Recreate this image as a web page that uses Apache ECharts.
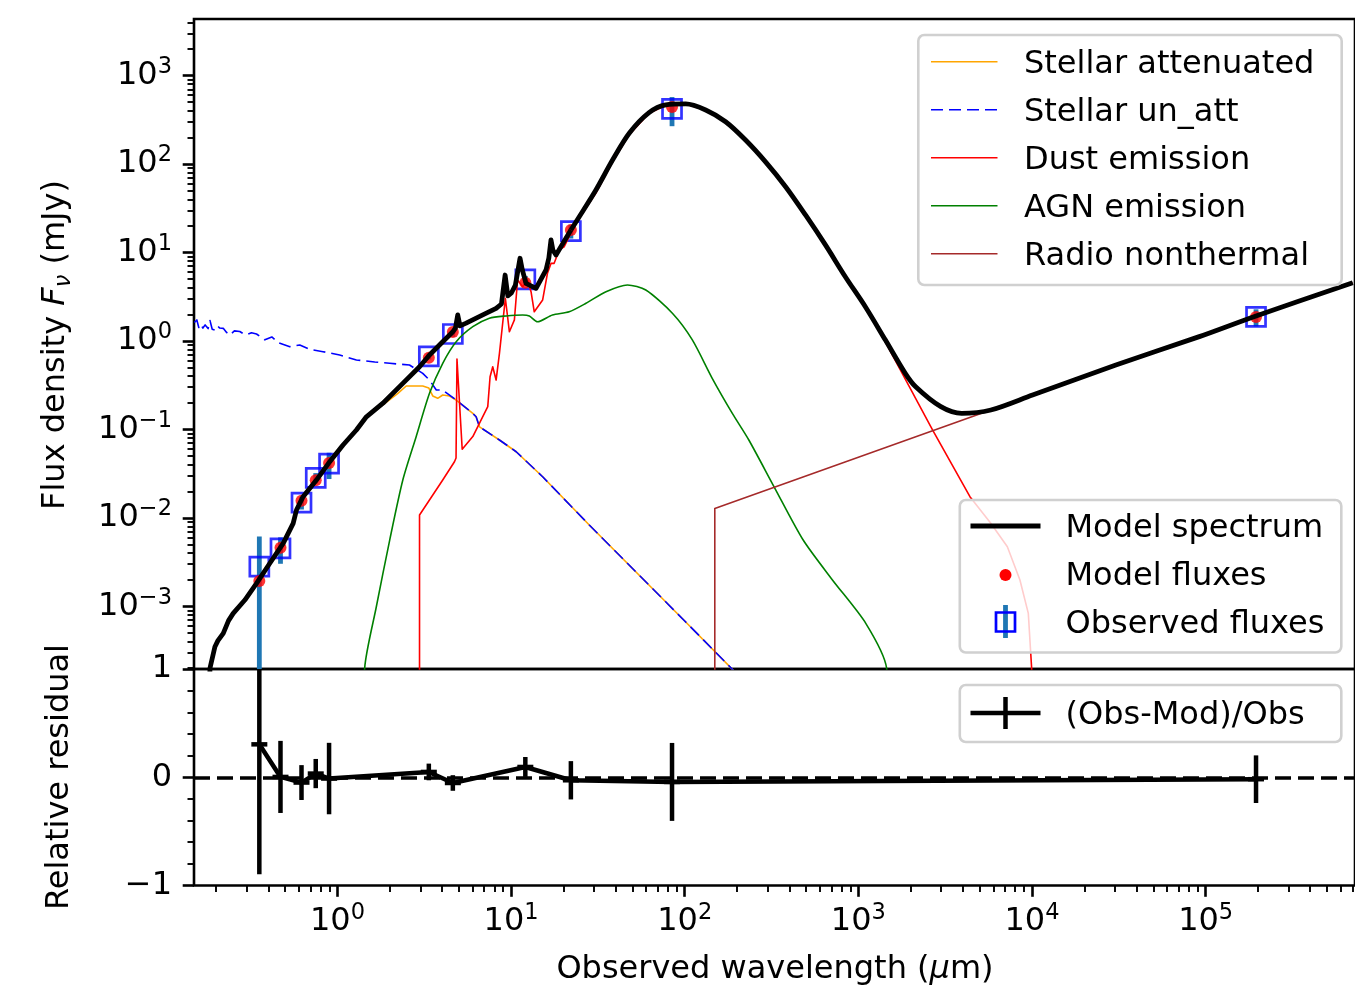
<!DOCTYPE html>
<html>
<head>
<meta charset="utf-8">
<title>SED fit</title>
<script src="https://cdn.jsdelivr.net/npm/echarts@6/dist/echarts.min.js"></script>
<style>
  html, body { margin: 0; padding: 0; background: #fff; }
  #sed { width: 1355px; height: 998px; }
</style>
</head>
<body>
<div id="sed"></div>
<script>
// all spectra: [wavelength (micron), flux density (mJy)]
var stellarAttenuated = [
  [0.180, 5e-5], [0.1846, 2.0e-4], [0.197, 3.5e-4], [0.220, 4.9e-4], [0.251, 8.3e-4],
  [0.293, 1.18e-3], [0.342, 1.8e-3], [0.408, 3.05e-3], [0.487, 5.1e-3], [0.556, 8.6e-3],
  [0.581, 0.0122], [0.634, 0.0172], [0.757, 0.0265], [0.903, 0.0428], [1.077, 0.066],
  [1.286, 0.097], [1.468, 0.136], [1.828, 0.19], [2.23, 0.256], [2.49, 0.31], [3.10, 0.31],
  [3.36, 0.294], [3.54, 0.239], [3.78, 0.225], [4.04, 0.245], [4.42, 0.239], [4.83, 0.215],
  [6.02, 0.152], [6.29, 0.139], [6.58, 0.107], [8.57, 0.076], [10.7, 0.056], [15.2, 0.0292],
  [28.2, 0.00831], [100, 6.84e-4], [200, 1.72e-4], [300, 7.6e-5]
];
var stellarUnatt = [
  [0.150, 1.62], [0.155, 1.73], [0.159, 1.42], [0.163, 1.55], [0.168, 1.40], [0.173, 1.52],
  [0.180, 1.38], [0.1846, 1.70], [0.190, 1.36], [0.197, 1.33], [0.204, 1.48], [0.210, 1.40],
  [0.220, 1.39], [0.230, 1.25], [0.240, 1.17], [0.255, 1.30], [0.274, 1.28], [0.287, 1.21],
  [0.300, 1.18], [0.320, 1.24], [0.342, 1.20], [0.382, 1.03], [0.419, 1.11], [0.46, 0.95],
  [0.532, 0.862], [0.607, 0.90], [0.70, 0.80], [0.826, 0.757], [1.03, 0.695], [1.286, 0.61],
  [1.64, 0.579], [2.0, 0.56], [2.60, 0.535], [3.10, 0.431], [3.39, 0.362], [3.71, 0.279],
  [4.04, 0.279], [4.83, 0.215], [6.02, 0.152], [6.29, 0.139], [6.58, 0.107], [8.57, 0.076],
  [10.7, 0.056], [15.2, 0.0292], [28.2, 0.00831], [100, 6.84e-4], [200, 1.72e-4], [300, 7.6e-5]
];
var dustEmission = [
  [2.97, 1e-5], [2.97, 0.0108], [4.04, 0.0268], [4.72, 0.0432], [4.82, 0.0476], [4.88, 0.626],
  [5.23, 0.0597], [6.02, 0.083], [7.34, 0.181], [7.57, 0.395], [7.84, 0.512], [8.20, 0.362],
  [8.57, 0.726], [9.27, 3.04], [9.78, 1.27], [10.45, 1.73], [10.9, 4.89], [11.66, 4.11],
  [12.45, 4.89], [13.03, 3.61], [13.6, 2.14], [15.2, 2.91], [16.2, 5.83], [17.0, 7.55],
  [17.7, 7.55], [18.95, 10.7], [20.2, 11.6], [21.6, 15.1], [23.6, 21.4], [30.8, 47],
  [38.4, 106], [47.9, 215], [62.3, 375], [77.8, 462], [101.4, 476], [132, 408], [172, 300],
  [224, 186], [292, 105], [381, 55], [496, 26.4], [646, 12.1], [841, 5.25], [1097, 2.38],
  [1429, 0.98], [2673, 0.0986], [4390, 0.0174], [5788, 0.00869], [7211, 0.00472],
  [8519, 0.00199], [9520, 8.34e-4], [9950, 2.0e-4], [10100, 1e-5]
];
var agnEmission = [
  [1.40, 1e-5], [1.435, 2.0e-4], [1.675, 9.9e-4], [2.0, 5.62e-3], [2.38, 0.0268], [2.84, 0.0828],
  [3.39, 0.256], [4.04, 0.56], [4.83, 0.982], [6.02, 1.45], [7.50, 1.81], [9.36, 1.92],
  [11.66, 1.97], [12.74, 1.92], [14.2, 1.65], [17.3, 1.97], [21.6, 2.14], [27.0, 2.67],
  [35.2, 3.61], [46.8, 4.30], [59.7, 3.77], [84.9, 2.06], [110.6, 1.03], [144, 0.379],
  [188, 0.152], [234, 0.076], [327, 0.0225], [481, 5.62e-3], [709, 1.99e-3], [1103, 6.43e-4],
  [1454, 2.0e-4], [1520, 1e-5]
];
var radioNonthermal = [
  [149, 1e-5], [149, 0.0128], [1000, 0.0484], [10000, 0.244], [100000, 1.21], [703000, 4.55]
];
var modelSpectrum = [
  [0.180, 5e-5], [0.1846, 2.01e-4], [0.197, 3.50e-4], [0.205, 4.1e-4], [0.220, 4.96e-4],
  [0.236, 6.9e-4], [0.251, 8.34e-4], [0.293, 1.18e-3], [0.342, 1.82e-3], [0.408, 3.07e-3],
  [0.487, 5.16e-3], [0.556, 8.69e-3], [0.581, 0.01228], [0.634, 0.01738], [0.757, 0.0268],
  [0.903, 0.0432], [1.077, 0.0667], [1.286, 0.0986], [1.468, 0.139], [1.828, 0.198],
  [2.38, 0.332], [2.97, 0.512], [3.39, 0.695], [4.04, 0.982], [4.62, 1.27], [4.78, 1.40],
  [4.93, 1.97], [5.08, 1.48], [5.51, 1.59], [6.87, 1.97], [8.20, 2.34], [8.80, 2.62],
  [9.24, 5.57], [9.58, 3.23], [10.04, 3.49], [10.59, 4.30], [11.26, 8.61], [11.61, 6.35],
  [12.19, 4.49], [13.92, 3.94], [15.89, 6.35], [16.5, 8.68], [16.98, 13.9], [17.4, 10.7],
  [18.14, 9.38], [22.1, 18.0], [24.7, 25.4], [30.8, 50.9], [38.4, 111], [47.9, 223],
  [62.3, 381], [77.8, 466], [101.4, 478], [132, 409], [172, 301], [224, 187], [292, 106],
  [381, 55.5], [496, 26.6], [646, 12.2], [841, 5.33], [1097, 2.44], [1429, 1.03], [1862, 0.431],
  [2138, 0.304], [2985, 0.181], [3936, 0.152], [5794, 0.166], [10070, 0.245], [30400, 0.535],
  [91900, 1.12], [195000, 1.92], [703000, 4.55]
];

// photometric bands
var bandWave = [0.355, 0.470, 0.621, 0.750, 0.895, 3.36, 4.62, 12.08, 22.1, 84.5, 195000];
var obsFlux = [0.00281, 0.00453, 0.01485, 0.0283, 0.0410, 0.671, 1.20, 4.98, 17.5, 420, 1.87];
var obsErr = [0.00337, 0.0015, 0.0024, 0.0038, 0.0135, 0.052, 0.086, 0.46, 3.1, 152, 0.41];
var modelFlux = [0.00193, 0.00460, 0.01564, 0.0266, 0.0418, 0.648, 1.26, 4.56, 17.99, 442, 1.87];
var residual = [0.304, 0.003, -0.049, 0.034, -0.012, 0.049, -0.053, 0.095, -0.028, -0.043, -0.018];
var residualErr = [1.20, 0.333, 0.161, 0.135, 0.33, 0.077, 0.072, 0.092, 0.177, 0.36, 0.22];

// tick exponents
var xTicks = [0, 1, 2, 3, 4, 5];
var yTicks = [-3, -2, -1, 0, 1, 2, 3];

var FONT = 'DejaVu Sans';
var X_MIN = -0.826, X_MAX = 5.86;
var Y_MIN = -3.708, Y_MAX = 3.640;
var SPLIT_WAVE = 22.1; // spiky mid-IR drawn straight, far-IR/radio drawn smoothed

function lg(arr) {
  return arr.map(function (p) { return [Math.log10(p[0]), Math.log10(p[1])]; });
}
function minorTicks(lo, hi) {
  var out = [];
  for (var n = Math.floor(lo); n <= Math.ceil(hi); n++) {
    for (var k = 2; k <= 9; k++) {
      var v = n + Math.log10(k);
      if (v >= lo && v <= hi) out.push(v);
    }
  }
  return out;
}
function powLabel(v) {
  var e = Math.round(v);
  return '{b|10}{s|' + (e < 0 ? '\u2212' + (-e) : e) + '}';
}
var powRich = {
  b: { fontSize: 32, lineHeight: 40, fontFamily: FONT, color: '#000' },
  s: { fontSize: 22.5, lineHeight: 20, verticalAlign: 'top', fontFamily: FONT, color: '#000' }
};
var majorTick = { length: 11.3, lineStyle: { color: '#000', width: 2.6 } };
var minorTick = { length: 6.5, lineStyle: { color: '#000', width: 1.9 } };

var errData = bandWave.map(function (w, i) {
  var lo = obsFlux[i] - obsErr[i];
  return [Math.log10(w), lo > 0 ? Math.log10(lo) : Y_MIN, Math.log10(obsFlux[i] + obsErr[i])];
});
var resData = bandWave.map(function (w, i) {
  return [Math.log10(w), residual[i], residualErr[i]];
});

function compLine(name, data, color, dash, smooth) {
  return {
    name: name, type: 'line', xAxisIndex: 0, yAxisIndex: 0,
    data: lg(data), symbol: 'none', silent: true, clip: true,
    smooth: smooth || false,
    lineStyle: { color: color, width: 1.6, type: dash || 'solid', join: 'round' }
  };
}

var chart = echarts.init(document.getElementById('sed'), null, { renderer: 'canvas' });

// legends drawn by hand to look like the matplotlib ones
var legend = [];
function box(x, y, w, h) {
  legend.push({ type: 'rect', z: 100, shape: { x: x, y: y, width: w, height: h, r: 6 },
    style: { fill: 'rgba(255,255,255,0.8)', stroke: '#d0d0d0', lineWidth: 2.6 } });
}
function label(x, y, t) {
  legend.push({ type: 'text', z: 101, x: x, y: y + 2.5,
    style: { text: t, fontSize: 32, fontFamily: FONT, fill: '#000', align: 'left', verticalAlign: 'middle' } });
}
function hline(x1, x2, y, color, w, dash) {
  legend.push({ type: 'line', z: 101, shape: { x1: x1, y1: y, x2: x2, y2: y },
    style: { stroke: color, lineWidth: w, lineDash: dash || null } });
}
box(918.3, 35, 423.4, 250);
var compNames = ['Stellar attenuated', 'Stellar un_att', 'Dust emission', 'AGN emission', 'Radio nonthermal'];
var compColors = ['#ffa500', '#0000ff', '#ff0000', '#008000', '#a52a2a'];
compNames.forEach(function (n, i) {
  var y = 61.7 + 48 * i;
  hline(931, 997.5, y, compColors[i], 1.6, i === 1 ? [12, 6] : null);
  label(1024, y, n);
});
box(959.8, 500, 381.5, 152.5);
hline(970.5, 1040.5, 526, '#000', 4.8);
label(1065.5, 526, 'Model spectrum');
legend.push({ type: 'circle', z: 101, shape: { cx: 1005.5, cy: 575, r: 6 }, style: { fill: '#ff0000' } });
label(1065.5, 574.5, 'Model fluxes');
legend.push({ type: 'line', z: 101, shape: { x1: 1005.5, y1: 605, x2: 1005.5, y2: 638 },
  style: { stroke: '#1f77b4', lineWidth: 4.8 } });
legend.push({ type: 'rect', z: 102, shape: { x: 996, y: 612.5, width: 19, height: 19 },
  style: { fill: 'none', stroke: '#0000ff', lineWidth: 2.7 } });
label(1065.5, 622, 'Observed fluxes');
box(959.8, 685, 381.5, 57);
hline(970.5, 1040.5, 713, '#000', 4.5);
legend.push({ type: 'line', z: 101, shape: { x1: 1005.5, y1: 697, x2: 1005.5, y2: 729 },
  style: { stroke: '#000', lineWidth: 4.5 } });
label(1065.5, 713, '(Obs-Mod)/Obs');

// axis titles
legend.push({ type: 'text', z: 50, x: 56, y: 345, rotation: Math.PI / 2,
  style: { text: 'Flux density {i|F}{sub|\u03bd} (mJy)', fontSize: 32, lineHeight: 40, fontFamily: FONT,
    fill: '#000', align: 'center', verticalAlign: 'middle',
    rich: { i: { fontSize: 32, lineHeight: 40, fontStyle: 'italic', fontFamily: FONT },
            sub: { fontSize: 22.5, lineHeight: 24, verticalAlign: 'bottom', fontStyle: 'italic', fontFamily: FONT } } } });
legend.push({ type: 'text', z: 50, x: 60, y: 777, rotation: Math.PI / 2,
  style: { text: 'Relative residual', fontSize: 32, fontFamily: FONT, fill: '#000',
    align: 'center', verticalAlign: 'middle' } });
legend.push({ type: 'text', z: 50, x: 775, y: 970,
  style: { text: 'Observed wavelength ({i|\u03bc}m)', fontSize: 32, lineHeight: 40, fontFamily: FONT,
    fill: '#000', align: 'center', verticalAlign: 'middle',
    rich: { i: { fontSize: 32, lineHeight: 40, fontStyle: 'italic', fontFamily: FONT } } } });

var modelLine = { color: '#000', width: 4.8, join: 'round' };

var option = {
  animation: false,
  backgroundColor: '#fff',
  textStyle: { fontFamily: FONT },
  grid: [
    { left: 194, top: 19, width: 1163.4, height: 650, show: true, borderColor: '#000', borderWidth: 2.6, backgroundColor: 'transparent' },
    { left: 194, top: 669, width: 1163.4, height: 216.5, show: true, borderColor: '#000', borderWidth: 2.6, backgroundColor: 'transparent' }
  ],
  xAxis: [
    { type: 'value', gridIndex: 0, min: X_MIN, max: X_MAX, axisLine: { show: false, onZero: false },
      axisTick: { show: false }, axisLabel: { show: false }, splitLine: { show: false } },
    { type: 'value', gridIndex: 1, position: 'bottom', min: X_MIN, max: X_MAX,
      axisLine: { show: false, onZero: false }, splitLine: { show: false },
      axisTick: Object.assign({ show: true, customValues: xTicks }, majorTick),
      axisLabel: { show: true, customValues: xTicks, margin: 16, formatter: powLabel, rich: powRich, hideOverlap: false } },
    { type: 'value', gridIndex: 1, position: 'bottom', min: X_MIN, max: X_MAX,
      axisLine: { show: false, onZero: false }, splitLine: { show: false },
      axisTick: Object.assign({ show: true, customValues: minorTicks(X_MIN, X_MAX) }, minorTick),
      axisLabel: { show: false } }
  ],
  yAxis: [
    { type: 'value', gridIndex: 0, position: 'left', min: Y_MIN, max: Y_MAX,
      axisLine: { show: false, onZero: false }, splitLine: { show: false },
      axisTick: Object.assign({ show: true, customValues: yTicks }, majorTick),
      axisLabel: { show: true, customValues: yTicks, margin: 22, formatter: powLabel, rich: powRich, hideOverlap: false } },
    { type: 'value', gridIndex: 0, position: 'left', min: Y_MIN, max: Y_MAX,
      axisLine: { show: false, onZero: false }, splitLine: { show: false },
      axisTick: Object.assign({ show: true, customValues: minorTicks(Y_MIN, Y_MAX) }, minorTick),
      axisLabel: { show: false } },
    { type: 'value', gridIndex: 1, position: 'left', min: -1, max: 1, interval: 1,
      axisLine: { show: false, onZero: false }, splitLine: { show: false },
      axisTick: Object.assign({ show: true }, majorTick),
      minorTick: Object.assign({ show: true, splitNumber: 5 }, minorTick),
      axisLabel: { show: true, margin: 22, fontSize: 32, fontFamily: FONT, color: '#000',
        formatter: function (v) { return v < 0 ? '\u2212' + (-v) : String(v); } } }
  ],
  graphic: { elements: legend },
  series: [
    compLine('Stellar attenuated', stellarAttenuated, '#ffa500'),
    compLine('Stellar un_att', stellarUnatt, '#0000ff', [12, 6]),
    compLine('Dust emission', dustEmission, '#ff0000'),
    compLine('AGN emission', agnEmission, '#008000', null, 0.25),
    compLine('Radio nonthermal', radioNonthermal, '#a52a2a'),
    {
      name: 'Model spectrum', type: 'line', xAxisIndex: 0, yAxisIndex: 0,
      data: lg(modelSpectrum.filter(function (p) { return p[0] <= SPLIT_WAVE; })),
      symbol: 'none', silent: true, clip: true, lineStyle: modelLine
    },
    {
      name: 'Model spectrum FIR', type: 'line', xAxisIndex: 0, yAxisIndex: 0,
      data: lg(modelSpectrum.filter(function (p) { return p[0] >= SPLIT_WAVE; })),
      symbol: 'none', silent: true, clip: true, smooth: 0.3, lineStyle: modelLine
    },
    {
      name: 'Observed errors', type: 'custom', xAxisIndex: 0, yAxisIndex: 0, data: errData, silent: true,
      renderItem: function (params, api) {
        var a = api.coord([api.value(0), Math.max(api.value(1), Y_MIN)]);
        var b = api.coord([api.value(0), Math.min(api.value(2), Y_MAX)]);
        return { type: 'line', shape: { x1: a[0], y1: a[1], x2: b[0], y2: b[1] },
          style: { stroke: '#1f77b4', lineWidth: 4.8 } };
      }
    },
    {
      name: 'Observed fluxes', type: 'scatter', xAxisIndex: 0, yAxisIndex: 0, silent: true,
      data: bandWave.map(function (w, i) { return [Math.log10(w), Math.log10(obsFlux[i])]; }),
      symbol: 'rect', symbolSize: 19,
      itemStyle: { color: 'rgba(0,0,0,0)', borderColor: '#0000ff', borderWidth: 2.7 }
    },
    {
      name: 'Model fluxes', type: 'scatter', xAxisIndex: 0, yAxisIndex: 0, silent: true,
      data: bandWave.map(function (w, i) { return [Math.log10(w), Math.log10(modelFlux[i])]; }),
      symbol: 'circle', symbolSize: 12, itemStyle: { color: '#ff0000' }
    },
    {
      name: '(Obs-Mod)/Obs', type: 'line', xAxisIndex: 1, yAxisIndex: 2, silent: true,
      data: resData.map(function (d) { return [d[0], d[1]]; }),
      symbol: 'none', lineStyle: { color: '#000', width: 4.5, join: 'round' },
      markLine: { silent: true, symbol: ['none', 'none'], label: { show: false },
        lineStyle: { color: '#000', width: 3.5, type: [16, 7] }, data: [{ yAxis: 0 }] }
    },
    {
      name: 'Residual errors', type: 'custom', xAxisIndex: 1, yAxisIndex: 2, data: resData, silent: true,
      renderItem: function (params, api) {
        var x = api.value(0), r = api.value(1), e = api.value(2);
        var a = api.coord([x, Math.max(r - e, -1)]);
        var b = api.coord([x, Math.min(r + e, 1)]);
        var c = api.coord([x, r]);
        return { type: 'group', children: [
          { type: 'line', shape: { x1: a[0], y1: a[1], x2: b[0], y2: b[1] }, style: { stroke: '#000', lineWidth: 4.5 } },
          { type: 'line', shape: { x1: c[0] - 8, y1: c[1], x2: c[0] + 8, y2: c[1] }, style: { stroke: '#000', lineWidth: 4.5 } }
        ] };
      }
    }
  ]
};
chart.setOption(option);
</script>
</body>
</html>
